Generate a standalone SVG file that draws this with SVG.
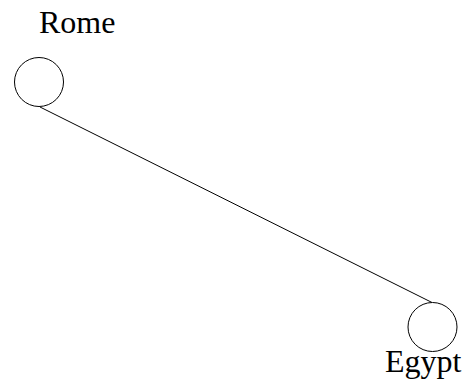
<svg xmlns="http://www.w3.org/2000/svg" width="468" height="390" viewBox="0 0 468 390">
<style>
.node circle{fill:#fff;stroke:#000;stroke-width:1}
.lbl{font-family:"Liberation Serif","Times New Roman",serif;font-size:32px;fill:#000}
.edge{stroke:#000;stroke-width:1;fill:none}
</style>
<rect width="468" height="390" fill="#fff"/>
<g id="connectors">
<line class="edge" x1="40" y1="107" x2="432" y2="302.5"/>
</g>
<g id="rome" class="node">
<circle cx="39" cy="82" r="24.5"/>
<text class="lbl" x="39" y="33">Rome</text>
</g>
<g id="egypt" class="node">
<circle cx="432.5" cy="327" r="24.5"/>
<text class="lbl" x="385" y="372">Egypt</text>
</g>
</svg>
